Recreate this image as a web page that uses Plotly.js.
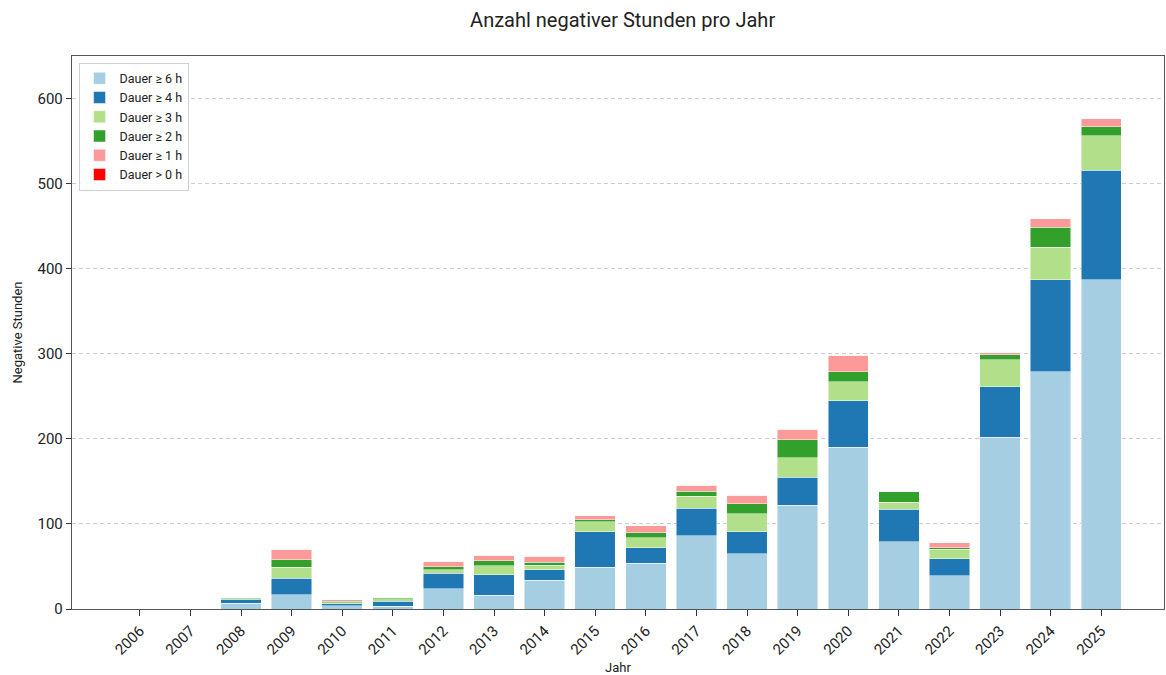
<!DOCTYPE html>
<html>
<head>
<meta charset="utf-8">
<script src="https://cdn.plot.ly/plotly-3.0.1.min.js"></script>
<style>html,body{margin:0;padding:0;background:#fff;}#chart{width:1166px;height:675px;}</style>
</head>
<body>
<div id="chart"></div>
<script>
const years = [2006,2007,2008,2009,2010,2011,2012,2013,2014,2015,2016,2017,2018,2019,2020,2021,2022,2023,2024,2025];
const seriesNames = ["Dauer ≥ 6 h","Dauer ≥ 4 h","Dauer ≥ 3 h","Dauer ≥ 2 h","Dauer ≥ 1 h","Dauer > 0 h"];
const dauer6 = [0,0,6.5,17,4,3,24,16,34,49,54,86,65,122,190,79,39,202,279,387];
const dauer4 = [0,0,5,19,2,6,18,24,12,42,18,32.5,26,33,55,38.5,20,59,108,129];
const dauer3 = [0,0,2,13,1.5,3,4,11,5.5,11.5,12,14,21,23,22,8,11.5,32,38,40];
const dauer2 = [0,0,0.5,9,1.5,2,3.5,6,3.5,2.5,5.5,6,12,21,12,13,1.5,6,24,11];
const dauer1 = [0,0,0,12,2,0,6,6,7,4.5,8.5,7,9.5,12,19,0,6,2,10,9];
const dauer0 = [0,0,0,0,0,0,0,0,0,0,0,0,0,0,0,0,0,0,0,0];
const colors = ["#a6cee3","#1f78b4","#b2df8a","#33a02c","#fb9a99","#ff0000"];
const allSeries = [dauer6,dauer4,dauer3,dauer2,dauer1,dauer0];
const font = "Roboto, 'Open Sans', sans-serif";

const traces = allSeries.map((vals,i)=>({
  type:'bar', x: years, y: vals, name: seriesNames[i], width: 0.8,
  marker:{color: colors[i], line:{color:'rgba(255,255,255,0.6)', width:0.8}},
  hoverinfo:'x+y+name'
}));

const layout = {
  width:1166, height:675,
  barmode:'stack',
  paper_bgcolor:'#fff', plot_bgcolor:'#fff',
  margin:{l:72, r:2, t:56, b:66},
  font:{family:font, color:'#222'},
  title:{text:'Anzahl negativer Stunden pro Jahr', font:{size:20, family:font, color:'#222'}, x:0.534, xanchor:'center', y:0.97, yanchor:'middle'},
  xaxis:{
    type:'linear', range:[2004.66, 2026.24],
    tickmode:'array', tickvals: years, ticktext: years.map(String),
    tickangle:-45, tickfont:{size:15}, ticks:'outside', ticklen:6, tickcolor:'#333',
    showgrid:false, zeroline:false,
    showline:true, mirror:true, linecolor:'#555', linewidth:1.2,
    title:{text:'Jahr', font:{size:13}, standoff:8}
  },
  yaxis:{
    range:[0,650], tickvals:[0,100,200,300,400,500,600], tickfont:{size:15},
    ticks:'outside', ticklen:5, tickcolor:'#333',
    showgrid:true, gridcolor:'#cccccc', griddash:'4px,3px', gridwidth:1,
    zeroline:false, showline:true, mirror:true, linecolor:'#555', linewidth:1.2,
    title:{text:'Negative Stunden', font:{size:13}, standoff:12}
  },
  legend:{x:0.006, y:0.988, xanchor:'left', yanchor:'top', bgcolor:'rgba(255,255,255,0.9)',
    bordercolor:'#d0d0d0', borderwidth:1, font:{size:12.5}, traceorder:'normal', itemwidth:30,
    tracegroupgap:0},
  showlegend:true
};
Plotly.newPlot('chart', traces, layout, {displayModeBar:false, staticPlot:true});
</script>
</body>
</html>
